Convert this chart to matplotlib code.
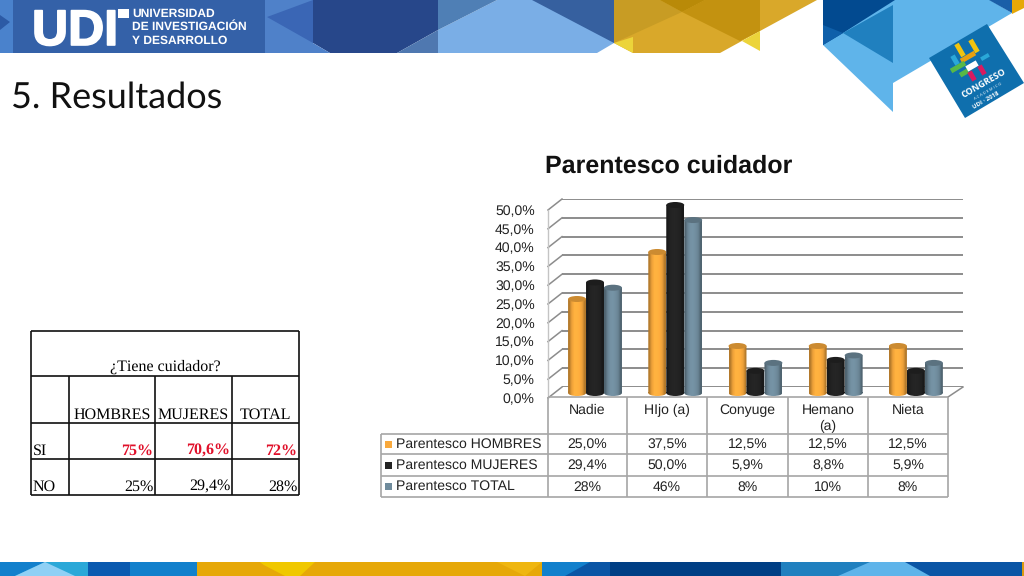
#parentesco cuidador - slide recreation
import numpy as np
import matplotlib
matplotlib.use('Agg')
import matplotlib.pyplot as plt
import matplotlib.patheffects as pe
from matplotlib.patches import Polygon, Ellipse, Rectangle, PathPatch
from matplotlib.path import Path

plt.rcParams['text.hinting'] = 'no_hinting'
plt.rcParams['text.hinting_factor'] = 1

#data

categories = ['Nadie', 'HIjo (a)', 'Conyuge', 'Hemano\n(a)', 'Nieta']
hombres = [25.0, 37.5, 12.5, 12.5, 12.5]
mujeres = [29.4, 50.0, 5.9, 8.8, 5.9]
total = [28, 46, 8, 10, 8]
series_names = ['Parentesco HOMBRES', 'Parentesco MUJERES', 'Parentesco TOTAL']
y_ticks = [0, 5, 10, 15, 20, 25, 30, 35, 40, 45, 50]

cuidador_cols = ['HOMBRES', 'MUJERES', 'TOTAL']
cuidador_si = ['75%', '70,6%', '72%']
cuidador_no = ['25%', '29,4%', '28%']

bar_colors = ['#f9a93c', '#232323', '#6f8b9c']

W, H = 1024, 576
fig = plt.figure(figsize=(W / 100, H / 100), dpi=100, facecolor='white')


def axes_px(x0, y0, x1, y1, z):
    # y0 is the top edge in pixels, y1 the bottom one
    ax = fig.add_axes([x0 / W, 1 - y1 / H, (x1 - x0) / W, (y1 - y0) / H], zorder=z)
    ax.patch.set_alpha(0)
    return ax


def pct(v):
    return '%s%%' % ('%.1f' % v).replace('.', ',')


#background layer in pixel coordinates

bg = axes_px(0, 0, W, H, 0)
bg.set_xlim(0, W)
bg.set_ylim(H, 0)
bg.axis('off')


def poly(points, color, z=1):
    bg.add_patch(Polygon(points, closed=True, facecolor=color, edgecolor='none', zorder=z))


#top banner
poly([(0, 0), (265, 0), (265, 53), (0, 53)], '#4a82cc')
poly([(0, 15), (10, 22), (0, 30)], '#2c5aa5', 2)
poly([(13, 0), (265, 0), (265, 53), (13, 53)], '#3461a8', 2)
poly([(265, 0), (313, 0), (313, 53), (265, 53)], '#4f81c9')
poly([(313, 0), (267, 17), (313, 43)], '#3a66b5', 2)
poly([(313, 0), (438, 0), (438, 30), (397, 53), (330, 53), (313, 43)], '#27478a', 2)
poly([(313, 43), (330, 53), (313, 53)], '#4f81c9', 2)
poly([(397, 53), (438, 30), (438, 53)], '#4f78b0', 2)
poly([(438, 0), (497, 0), (438, 30)], '#4f7fb5', 2)
poly([(438, 30), (497, 0), (614, 0), (614, 43), (597, 53), (438, 53)], '#7aaee6')
poly([(532, 0), (614, 0), (614, 43)], '#36609f', 2)
poly([(614, 0), (817, 0), (760, 31), (720, 53), (633, 53), (614, 43)], '#d9a82a')
poly([(614, 0), (660, 0), (682, 12), (614, 43)], '#c89c24', 2)
poly([(660, 0), (705, 0), (682, 12)], '#b98a08', 3)
poly([(705, 0), (760, 0), (760, 31), (740, 41), (682, 12)], '#c39210', 2)
poly([(614, 43), (633, 37), (633, 53)], '#ecd43a', 2)
poly([(742, 41), (760, 31), (760, 51)], '#ecd43a', 2)

#top right corner
poly([(823, 0), (990, 0), (1012, 13), (893, 83), (893, 112), (823, 45)], '#5fb4ea')
poly([(823, 0), (895, 0), (843, 33), (823, 45)], '#024a90', 2)
poly([(823, 25), (843, 33), (823, 45)], '#0f60aa', 3)
poly([(843, 33), (893, 5), (893, 63)], '#2080bf', 2)
poly([(989, 0), (1012, 0), (1012, 13)], '#1a5fa8', 2)
poly([(1012, 0), (1024, 0), (1024, 8), (1012, 14)], '#e6a808', 2)
poly([(929, 58), (987, 24), (1024, 83), (965, 118)], '#0f6fad', 3)

#congreso badge, little rotated blocks for the puzzle
badge_parts = [(960, 50, 5, 14, '#f1c40f'), (974, 46, 5, 14, '#f1c40f'), (968, 57, 16, 5, '#e8a010'),
               (958, 67, 16, 5, '#57b947'), (955, 60, 5, 10, '#2aa8d8'), (964, 73, 9, 5, '#57b947'),
               (972, 66, 12, 6, '#ffffff'), (972, 76, 5, 10, '#d81b60'), (982, 70, 5, 10, '#d81b60'),
               (985, 57, 9, 4, '#2aa8d8')]
for cx, cy, bw, bh, c in badge_parts:
    block = Rectangle((-bw / 2, -bh / 2), bw, bh, facecolor=c, edgecolor='none', zorder=4)
    block.set_transform(matplotlib.transforms.Affine2D().rotate_deg(-30).translate(cx, cy) + bg.transData)
    bg.add_patch(block)
bg.text(984, 83, 'CONGRESO', rotation=30, rotation_mode='anchor', color='white', fontsize=6.8, fontweight='bold',
        family='Open Sans', ha='center', va='center', zorder=5)
bg.text(988, 91, 'A C A D E M I C O', rotation=30, rotation_mode='anchor', color='white', fontsize=3,
        family='Open Sans', ha='center', va='center', zorder=5)
bg.text(986, 100, 'UDI · 2018', rotation=30, rotation_mode='anchor', color='white', fontsize=4.5, fontweight='bold',
        family='Open Sans', ha='center', va='center', zorder=5)

#bottom strip
strip = [(0, 88, '#2aa8d8'), (88, 130, '#0a5ab0'), (130, 197, '#1280cc'), (197, 542, '#e6a808'),
         (542, 610, '#1280cc'), (610, 781, '#003f85'), (781, 905, '#2080bf'), (905, 1022, '#0a55a5'),
         (1022, 1024, '#d99a10')]
for x0, x1, c in strip:
    bg.add_patch(Rectangle((x0, 562), x1 - x0, 14, facecolor=c, edgecolor='none', zorder=1))
poly([(0, 562), (45, 562), (15, 576), (0, 576)], '#1280cc', 2)
poly([(15, 576), (45, 562), (75, 576)], '#8fd0f5', 3)
poly([(260, 562), (315, 562), (300, 576), (275, 576)], '#f0c800', 2)
poly([(230, 576), (258, 562), (285, 576)], '#e6a808', 3)
poly([(497, 562), (542, 562), (525, 576)], '#efb610', 2)
poly([(565, 576), (590, 562), (610, 562), (610, 576)], '#0a55a5', 2)
poly([(838, 576), (870, 562), (905, 562), (930, 576)], '#5fb4ea', 2)

#logo
bg.text(32, 45, 'UDI', color='white', fontsize=36, fontweight='bold', family='Liberation Sans', ha='left',
        va='baseline', zorder=5, path_effects=[pe.withStroke(linewidth=1.2, foreground='white')])
bg.add_patch(Rectangle((118, 9), 11, 9, facecolor='white', edgecolor='none', zorder=5))
for row, ly in zip(['UNIVERSIDAD', 'DE INVESTIGACIÓN', 'Y DESARROLLO'], [13.5, 27, 40.5]):
    bg.text(132, ly, row, color='white', fontsize=8.5, fontweight='bold', family='Liberation Sans', va='center',
            zorder=5)

#titles
bg.text(11, 98, '5. Resultados', fontsize=26, family='Lato', color='#111111', va='center', ha='left')
bg.text(669, 166, 'Parentesco cuidador', fontsize=18.1, fontweight='bold', family='Liberation Sans',
        color='#111111', ha='center', va='center')

#left table
t_x = [31, 69, 155, 232, 299]
t_y = [331, 376, 423, 459, 495]
serif = 'Liberation Serif'
serif_size = 11.4
bg.hlines(t_y, t_x[0], t_x[-1], color='#111111', lw=1.2, zorder=2)
bg.vlines([t_x[0], t_x[-1]], t_y[0], t_y[-1], color='#111111', lw=1.2, zorder=2)
bg.vlines(t_x[1:-1], t_y[1], t_y[-1], color='#111111', lw=1.2, zorder=2)
bg.text(165, t_y[1] - 2, '¿Tiene cuidador?', family=serif, fontsize=serif_size, ha='center', va='bottom')
for i, name in enumerate(cuidador_cols):
    bg.text((t_x[i + 1] + t_x[i + 2]) / 2, t_y[2] - 1, name, family=serif, fontsize=serif_size, ha='center',
            va='bottom')
    bg.text(t_x[i + 2] - 2, t_y[3] - 1, cuidador_si[i], family=serif, fontsize=serif_size, fontweight='bold',
            color='#e0102a', ha='right', va='bottom')
    bg.text(t_x[i + 2] - 1, t_y[4] - 1, cuidador_no[i], family=serif, fontsize=serif_size, ha='right', va='bottom')
bg.text(t_x[0] + 2, t_y[3] - 1, 'SI', family=serif, fontsize=serif_size, ha='left', va='bottom')
bg.text(t_x[0] + 2, t_y[4] - 1, 'NO', family=serif, fontsize=serif_size, ha='left', va='bottom')

#chart walls

grey = '#8c8c8c'
wall = axes_px(562, 199, 963, 387, 1)
wall.set_xlim(0, 1)
wall.set_ylim(0, 50)
wall.set_xticks([])
wall.set_yticks(y_ticks)
wall.tick_params(left=False, labelleft=False)
wall.grid(True, axis='y', color=grey, lw=1.4)
for s in wall.spines.values():
    s.set_visible(False)

#front axes only carries the value labels
front = axes_px(548, 210, 948, 398, 1)
front.set_xlim(0, 1)
front.set_ylim(0, 50)
front.set_xticks([])
front.set_yticks(y_ticks)
front.set_yticklabels([pct(v) for v in y_ticks], family='Liberation Sans', fontsize=10.3, color='#222222')
front.tick_params(length=0, pad=9.5)
for s in front.spines.values():
    s.set_visible(False)
for v in y_ticks:
    bg.plot([548, 562], [398 - 3.76 * v, 387 - 3.76 * v], color=grey, lw=1.1, zorder=2)
bg.plot([548, 548], [210, 398], color='#c4c4c4', lw=1.0, zorder=2)
bg.plot([963, 948], [387, 397], color=grey, lw=1.1, zorder=2)

#bars, axes has a little room below 0 and above 50 for the cylinder ends

ax = axes_px(548, 197.48, 948, 400.52, 3)
ax.axis('off')

bar_w = 0.224
cap_h = 1.6
x = np.arange(len(categories))
shade = np.array([0.72, 0.95, 1.05, 1.06, 1.02, 0.95, 0.72])

for k, values in enumerate([hombres, mujeres, total]):
    bars = ax.bar(x + (k - 1) * bar_w, values, bar_w, color=bar_colors[k], linewidth=0, zorder=3 + k)
    base = np.array(matplotlib.colors.to_rgb(bar_colors[k]))
    grad = np.clip(base[None, None, :] * shade[None, :, None], 0, 1)
    for b in bars:
        left, w, v = b.get_x(), b.get_width(), b.get_height()
        body = Rectangle((left, 0), w, v)
        low = Ellipse((left + w / 2, 0), w, cap_h)
        top = Ellipse((left + w / 2, v), w, cap_h, facecolor=base * 0.82, edgecolor='none', zorder=3.5 + k)
        clip = Path.make_compound_path(body.get_path().transformed(body.get_patch_transform()),
                                       low.get_path().transformed(low.get_patch_transform()))
        im = ax.imshow(grad, extent=(left, left + w, -cap_h, v), aspect='auto', zorder=3.2 + k,
                       interpolation='bilinear')
        im.set_clip_path(PathPatch(clip, transform=ax.transData))
        b.set_visible(False)
        ax.add_patch(top)
ax.set_xlim(-0.586, 4.4)
ax.set_ylim(-2, 52)

#data table under the chart

col_x = [548, 627, 707, 788, 868, 948]
row_y = [397, 434, 454, 476, 497]
tab_left = 381
rule = '#a6a6a6'
bg.hlines(row_y[0], col_x[0], col_x[-1], color=rule, lw=1.2, zorder=2)
bg.hlines(row_y[1:], tab_left, col_x[-1], color=rule, lw=1.2, zorder=2)
bg.vlines(col_x, row_y[0], row_y[-1], color=rule, lw=1.2, zorder=2)
bg.vlines(tab_left, row_y[1], row_y[-1], color=rule, lw=1.2, zorder=2)

sans = 'Liberation Sans'
table_size = 10.3
for i, name in enumerate(categories):
    bg.text((col_x[i] + col_x[i + 1]) / 2, row_y[0] + 7, name, family=sans, fontsize=table_size, ha='center',
            va='top', color='#222222', linespacing=1.3)

table_text = [[pct(v) for v in hombres], [pct(v) for v in mujeres], ['%d%%' % v for v in total]]
for r, name in enumerate(series_names):
    yc = (row_y[r + 1] + row_y[r + 2]) / 2
    bg.add_patch(Rectangle((385, yc - 3.5), 7, 7, facecolor=bar_colors[r], edgecolor='none', zorder=2))
    bg.text(396, yc, name, family=sans, fontsize=table_size, va='center', ha='left', color='#222222')
    for i, s in enumerate(table_text[r]):
        bg.text((col_x[i] + col_x[i + 1]) / 2, yc + 0.5, s, family=sans, fontsize=table_size, va='center',
                ha='center', color='#222222')

fig.savefig('out.png', dpi=100)
